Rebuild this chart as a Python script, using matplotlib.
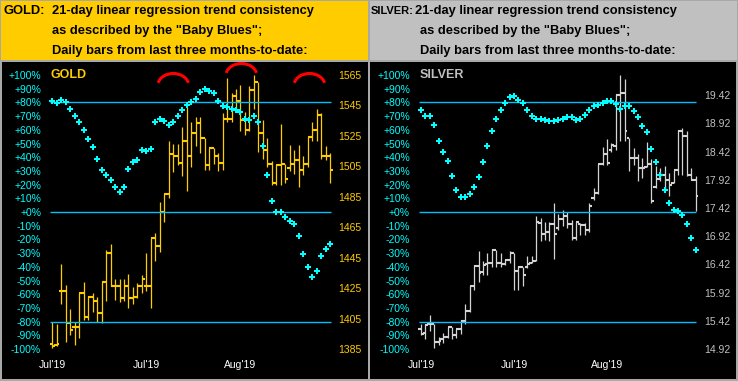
import numpy as np
import matplotlib.pyplot as plt
from matplotlib.patches import Arc, Rectangle

plt.rcParams['font.family'] = ['Liberation Sans', 'DejaVu Sans']

W, H = 738, 381

# ---------------- data ----------------
pct_ticks = list(range(-100, 101, 10))
ref_levels = [80, 0, -80]
month_pos = [0, 21, 42]
month_labels = ["Jul'19", "Jul'19", "Aug'19"]

gold_price_ticks = [1385, 1405, 1425, 1445, 1465, 1485, 1505, 1525, 1545, 1565]
silver_price_ticks = [14.92, 15.42, 15.92, 16.42, 16.92, 17.42, 17.92, 18.42, 18.92, 19.42]

gold_open = [1388.6, 1387.7, 1422.8, 1422.8, 1402.1, 1399.4, 1399.4, 1421.9, 1405.7, 1419.2,
             1416.5, 1408.4, 1429.1, 1448.0, 1426.4, 1426.4, 1418.3, 1426.4, 1418.3, 1419.2,
             1426.4, 1426.4, 1426.4, 1457.9, 1452.5, 1475.0, 1486.7, 1512.8, 1511.9, 1507.4,
             1521.8, 1511.9, 1527.2, 1533.5, 1523.6, 1505.6, 1517.3, 1511.9, 1507.4, 1536.2,
             1536.2, 1551.5, 1547.9, 1535.3, 1529.0, 1555.1, 1560.5, 1527.2, 1515.5, 1506.5,
             1493.9, 1505.6, 1506.5, 1503.8, 1506.5, 1509.2, 1502.9, 1506.5, 1524.5, 1529.0,
             1538.9, 1511.9, 1511.9]
gold_high = [1403.0, 1401.2, 1440.8, 1427.3, 1411.1, 1403.0, 1421.9, 1429.1, 1419.2, 1421.9,
             1419.2, 1429.1, 1449.8, 1454.3, 1430.9, 1430.9, 1430.9, 1434.5, 1425.5, 1428.2,
             1433.6, 1448.0, 1457.9, 1461.5, 1481.3, 1486.7, 1521.8, 1520.0, 1520.0, 1530.8,
             1544.3, 1534.4, 1537.1, 1537.1, 1523.6, 1517.3, 1517.3, 1513.7, 1539.8, 1563.2,
             1553.3, 1556.0, 1558.7, 1540.7, 1557.8, 1565.0, 1560.5, 1535.3, 1523.6, 1508.3,
             1505.6, 1532.6, 1506.5, 1519.1, 1515.5, 1519.1, 1511.9, 1524.5, 1534.4, 1542.5,
             1539.8, 1518.2, 1513.7]
gold_low = [1385.9, 1386.8, 1414.7, 1389.5, 1394.0, 1387.7, 1392.2, 1403.9, 1403.9, 1409.3,
            1403.0, 1402.1, 1416.5, 1426.4, 1417.4, 1415.6, 1416.5, 1412.0, 1414.7, 1418.3,
            1421.9, 1422.8, 1412.0, 1442.6, 1448.9, 1468.3, 1484.0, 1501.1, 1505.6, 1498.4,
            1488.5, 1504.7, 1518.2, 1513.7, 1502.9, 1502.9, 1506.5, 1502.0, 1502.9, 1534.4,
            1534.4, 1542.5, 1528.1, 1525.4, 1528.1, 1542.5, 1514.6, 1510.1, 1504.7, 1493.0,
            1493.0, 1493.0, 1493.9, 1502.0, 1500.2, 1491.2, 1499.3, 1504.7, 1521.8, 1521.8,
            1510.1, 1509.2, 1493.9]
gold_close = [1386.8, 1388.6, 1422.8, 1402.1, 1397.6, 1399.4, 1421.9, 1405.7, 1419.2, 1416.5,
              1408.4, 1429.1, 1448.0, 1426.4, 1426.4, 1418.3, 1426.4, 1418.3, 1419.2, 1426.4,
              1430.9, 1426.4, 1457.9, 1452.5, 1475.0, 1486.7, 1512.8, 1511.9, 1507.4, 1521.8,
              1511.9, 1527.2, 1533.5, 1523.6, 1505.6, 1517.3, 1511.9, 1507.4, 1536.2, 1536.2,
              1551.5, 1547.9, 1535.3, 1529.0, 1555.1, 1560.5, 1527.2, 1515.5, 1506.5, 1493.9,
              1505.6, 1506.5, 1496.6, 1506.5, 1509.2, 1502.9, 1506.5, 1524.5, 1529.0, 1538.9,
              1511.9, 1511.9, 1502.9]
# "Baby Blues" trend consistency, %
gold_blues = [80.8, 79.6, 81.5, 80.0, 75.4, 70.3, 65.5, 60.1, 53.5, 47.2,
              38.9, 30.4, 26.8, 23.6, 18.0, 14.4, 18.0, 31.6, 36.3, 37.7,
              45.5, 44.3, 46.2, 65.5, 68.1, 66.7, 63.3, 65.5, 69.8, 74.2,
              77.9, 80.0, 82.7, 87.6, 90.0, 88.6, 86.6, 81.3, 77.6, 76.9,
              75.4, 74.7, 72.7, 68.2, 67.4, 69.8, 65.9, 47.9, 27.3, 7.8,
              0.3, -0.2, -3.9, -6.3, -9.0, -17.8, -31.0, -39.8, -47.8, -42.9,
              -32.0, -27.3, -23.7]
# red "top" markers over the gold bars (bar index, % level)
gold_tops_idx = [27.0, 42.2, 57.4]
gold_tops_pct = [101.1, 108.4, 101.1]

silver_open = [15.28, 15.21, 15.36, 15.36, 15.04, 15.09, 15.14, 15.31, 15.16, 15.28,
               15.41, 15.60, 16.04, 16.40, 16.28, 16.43, 16.45, 16.67, 16.45, 16.43,
               16.50, 16.62, 16.31, 16.38, 16.38, 16.45, 16.48, 17.16, 16.96, 16.99,
               17.13, 17.06, 17.23, 17.28, 17.13, 16.89, 17.13, 17.11, 17.03, 17.59,
               17.69, 18.20, 18.37, 18.44, 18.52, 19.42, 19.46, 18.66, 18.30, 18.30,
               18.13, 18.15, 18.20, 17.79, 17.93, 18.01, 17.92, 17.86, 18.10, 18.78,
               18.70, 18.01, 17.92]
silver_high = [15.36, 15.36, 15.53, 15.36, 15.14, 15.21, 15.31, 15.31, 15.28, 15.43,
               15.72, 16.04, 16.41, 16.65, 16.48, 16.62, 16.69, 16.68, 16.62, 16.52,
               16.65, 16.62, 16.40, 16.38, 16.57, 16.57, 17.28, 17.24, 17.17, 17.17,
               17.51, 17.32, 17.39, 17.35, 17.20, 17.18, 17.16, 17.16, 17.50, 17.78,
               18.20, 18.50, 18.65, 18.57, 19.44, 19.78, 19.71, 18.66, 18.49, 18.37,
               18.31, 18.59, 18.28, 18.16, 18.13, 18.16, 18.04, 18.10, 18.81, 18.84,
               18.78, 18.13, 17.98]
silver_low = [15.17, 15.09, 15.24, 14.93, 14.99, 15.02, 15.11, 15.09, 15.11, 15.19,
              15.36, 15.58, 15.96, 16.11, 16.23, 16.23, 16.38, 16.38, 16.38, 16.41,
              16.45, 15.96, 15.96, 16.04, 16.35, 16.45, 16.48, 16.84, 16.86, 16.84,
              16.52, 17.03, 17.10, 17.07, 16.86, 16.86, 16.95, 16.95, 17.00, 17.57,
              17.67, 18.19, 18.19, 18.42, 18.44, 18.61, 18.61, 18.07, 18.19, 17.89,
              17.95, 18.15, 17.51, 17.78, 17.89, 17.72, 17.63, 17.86, 18.01, 18.01,
              17.98, 17.92, 17.36]
silver_close = [15.19, 15.34, 15.36, 15.04, 15.07, 15.14, 15.31, 15.16, 15.28, 15.41,
                15.60, 16.04, 16.40, 16.27, 16.41, 16.45, 16.67, 16.45, 16.43, 16.50,
                16.62, 16.31, 16.37, 16.23, 16.43, 16.48, 17.17, 16.96, 16.99, 17.13,
                16.96, 17.23, 17.28, 17.13, 16.88, 17.17, 17.11, 17.03, 17.46, 17.68,
                18.20, 18.37, 18.22, 18.53, 19.42, 19.46, 18.79, 18.31, 18.31, 18.13,
                18.13, 18.20, 17.54, 17.93, 18.01, 17.92, 17.82, 18.10, 18.78, 18.70,
                18.01, 17.92, 17.63]
silver_blues = [74.7, 70.3, 70.3, 63.7, 51.6, 43.6, 37.0, 26.5, 16.3, 10.9,
                10.9, 12.9, 18.0, 25.3, 36.3, 47.9, 58.9, 68.1, 74.2, 79.6,
                83.7, 84.4, 81.5, 79.3, 74.7, 69.8, 68.1, 68.1, 66.9, 66.2,
                66.2, 66.9, 67.9, 69.1, 69.1, 67.4, 68.1, 70.6, 74.2, 77.1,
                77.9, 79.3, 80.8, 80.8, 78.8, 75.4, 77.1, 77.1, 73.9, 69.1,
                63.0, 58.1, 46.2, 36.3, 27.3, 16.3, 6.6, 1.2, 0.5, -2.4,
                -8.5, -18.8, -28.0]

# ---------------- style ----------------
GOLD = '#FFCC00'
SILVER_HDR = '#C0C0C0'
SILVER_BAR = '#D4D4D4'
CYAN = '#00FFFF'
LINE = '#00C0FF'
PCT_LIM = (-121.9, 109.5)

fig = plt.figure(figsize=(W / 100, H / 100), dpi=100)
fig.patch.set_facecolor('#A8A8A8')


def px_rect(x0, y0, x1, y1, color):
    fig.patches.append(Rectangle((x0 / W, 1 - y1 / H), (x1 - x0) / W, (y1 - y0) / H,
                                 transform=fig.transFigure, facecolor=color,
                                 edgecolor='none', zorder=0))


def px_text(x, y, s, **kw):
    fig.text(x / W, 1 - y / H, s, va='center', **kw)


def draw_panel(box, bar0, step, o, h, l, c, blues, price_lim, price_ticks, fmt,
               bar_color, price_color, name, left_pad, right_pad, line_end):
    x0, y0, x1, y1 = box
    ax = fig.add_axes([x0 / W, 1 - y1 / H, (x1 - x0) / W, (y1 - y0) / H])
    ax.set_facecolor('black')
    idx = np.arange(len(c))
    ax.set_xlim((x0 - bar0) / step, (x1 - bar0) / step)
    ax.set_ylim(price_lim)
    ax.vlines(idx, l, h, color=bar_color, lw=0.9)
    ax.hlines(o, idx - 0.6, idx, color=bar_color, lw=1.5)
    ax.hlines(c, idx, idx + 0.6, color=bar_color, lw=1.5)
    ax.set_xticks([])
    for s in ax.spines.values():
        s.set_visible(False)
    for pos, lab in zip(month_pos, month_labels):
        ax.text(pos, (y1 - 365) / (y1 - y0), lab, transform=ax.get_xaxis_transform(),
                ha='center', va='center', color='white', fontsize=7.5)

    axp = ax.twinx()
    axp.set_ylim(PCT_LIM)
    axp.hlines(ref_levels, -0.5, line_end, color=LINE, lw=1.0)
    axp.plot(idx, blues, ls='none', marker='P', ms=4.2, mew=0, color=CYAN)
    for s in axp.spines.values():
        s.set_visible(False)

    # price scale on the right, % scale on the left, both drawn inside the panel
    ax.set_yticks(price_ticks)
    ax.set_yticklabels([fmt.format(v) for v in price_ticks])
    ax.yaxis.tick_right()
    ax.tick_params(axis='y', length=0, pad=right_pad, labelsize=7.5, labelcolor=price_color)
    axp.set_yticks(pct_ticks)
    axp.set_yticklabels([f'{v:+d}%' for v in pct_ticks])
    axp.yaxis.tick_left()
    axp.tick_params(axis='y', length=0, pad=left_pad, labelsize=7.5, labelcolor=CYAN)

    axp.text(-0.35, 100, name, ha='left', va='center', color=price_color,
             fontsize=9, fontweight='bold')
    return axp


# headers
px_rect(1, 1, 368, 60, GOLD)
px_rect(370, 1, 737, 60, SILVER_HDR)
hdr = dict(fontsize=9.3, fontweight='bold', color='black', ha='left')
px_text(4, 10.7, 'GOLD:', **hdr)
px_text(51.7, 10.7, '21-day linear regression trend consistency', **hdr)
px_text(51.7, 30.7, 'as described by the "Baby Blues";', **hdr)
px_text(51.7, 50.7, 'Daily bars from last three months-to-date:', **hdr)
px_text(370.5, 10.7, 'SILVER:', fontsize=8.0, fontweight='bold', color='black', ha='left')
px_text(415.3, 10.7, '21-day linear regression trend consistency', **hdr)
px_text(419.7, 30.7, 'as described by the "Baby Blues";', **hdr)
px_text(419.7, 50.7, 'Daily bars from last three months-to-date:', **hdr)

# gold panel: price 1475 sits on the 0% line, 0.9 per %
axg = draw_panel((2, 62, 368, 379), 52.3, 4.48, gold_open, gold_high, gold_low, gold_close,
                 gold_blues, (1475 + 0.9 * PCT_LIM[0], 1475 + 0.9 * PCT_LIM[1]),
                 gold_price_ticks, '{:d}', GOLD, GOLD, 'GOLD', -28.1, -21.6, 62.1)
for cx, top in zip(gold_tops_idx, gold_tops_pct):
    axg.add_patch(Arc((cx, top - 8.75), 6.9, 17.5, theta1=30, theta2=150,
                      color='#FF0000', lw=2.2, clip_on=False))

# silver panel
draw_panel((370, 62, 736, 379), 421, 4.43, silver_open, silver_high, silver_low, silver_close,
           silver_blues, (17.349 + 0.02429 * PCT_LIM[0], 17.349 + 0.02429 * PCT_LIM[1]),
           silver_price_ticks, '{:.2f}', SILVER_BAR, SILVER_HDR, 'SILVER', -28.8, -22.8, 62.0)

fig.savefig('out.png', dpi=100, facecolor=fig.get_facecolor())
